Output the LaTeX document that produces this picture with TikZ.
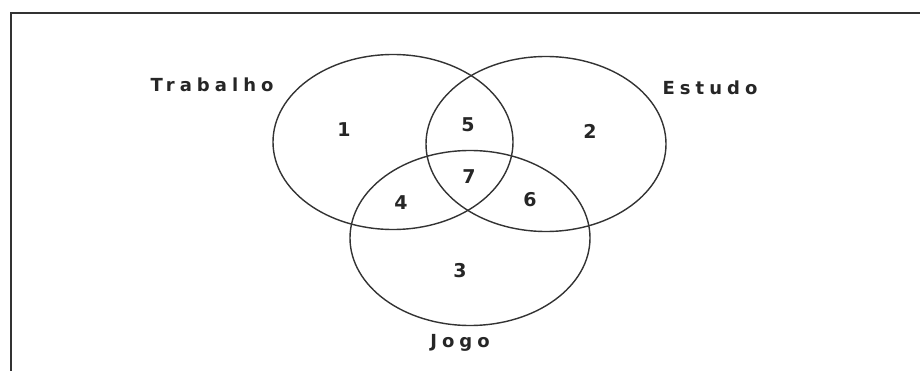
\documentclass[tikz,border=0pt]{standalone}
\usepackage{fontspec}
\setmainfont{DejaVu Sans}
\newfontfamily\lblfont[LetterSpace=28]{DejaVu Sans Bold}
\newfontfamily\numfont{DejaVu Sans Bold}
\usetikzlibrary{shapes.geometric}
\begin{document}
\begin{tikzpicture}[x=1pt,y=-1pt,
  setbox/.style={ellipse, draw=black!80, line width=1.4pt, minimum width=240pt, minimum height=175pt, inner sep=0pt},
  setlabel/.style={font=\lblfont\fontsize{18}{21}\selectfont, text=black!85, inner sep=0pt},
  region/.style={font=\numfont\fontsize{19}{22}\selectfont, text=black!85, inner sep=0pt}]
\useasboundingbox (0,0) rectangle (920,371);
\coordinate (ftl) at (11,13);
\coordinate (ftr) at (920,13);
\coordinate (fbl) at (11,371);
\draw[line width=2pt, black!80] (fbl) -- (ftl) -- (ftr);
\node[setbox] (trab) at (393,142) {};
\node[setbox] (estu) at (546,144) {};
\node[setbox] (jogo) at (470,238) {};
\node[setlabel] (ltrab) at (212,85) {Trabalho};
\node[setlabel] (lestu) at (710,88) {Estudo};
\node[setlabel] (ljogo) at (460,343) {Jogo};
\node[region] (r1) at (344,130) {1};
\node[region] (r5) at (468,125) {5};
\node[region] (r2) at (590,131) {2};
\node[region] (r7) at (469,177) {7};
\node[region] (r4) at (401,203) {4};
\node[region] (r6) at (530,200) {6};
\node[region] (r3) at (460,271) {3};
\end{tikzpicture}
\end{document}
